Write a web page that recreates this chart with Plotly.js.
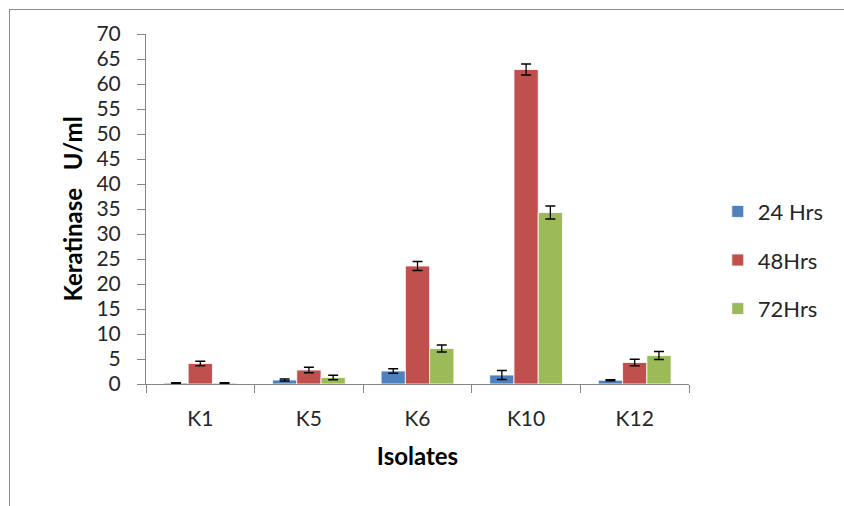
<!DOCTYPE html>
<html>
<head>
<meta charset="utf-8">
<script src="https://cdn.plot.ly/plotly-3.0.1.min.js"></script>
<style>
  html, body { margin: 0; padding: 0; background: #fff; }
  #wrap { position: relative; width: 844px; height: 506px; overflow: hidden; }
  #frame { position: absolute; left: 9px; top: 9px; width: 860px; height: 520px; border: 1px solid #8c8c8c; box-sizing: border-box; pointer-events: none; }
  #chart { position: absolute; left: 0; top: 0; width: 844px; height: 506px; }
</style>
</head>
<body>
<div id="wrap">
  <div id="chart"></div>
  <div id="frame"></div>
</div>
<script>
const isolates = ["K1", "K5", "K6", "K10", "K12"];
const seriesNames = ["24 Hrs", "48Hrs", "72Hrs"];
const hrs24 = [0.2, 0.8, 2.6, 1.8, 0.75];
const hrs48 = [4.1, 2.8, 23.6, 62.9, 4.3];
const hrs72 = [0.2, 1.3, 7.1, 34.3, 5.7];
const err24 = [0.05, 0.2, 0.45, 0.9, 0.1];
const err48 = [0.45, 0.55, 0.9, 1.1, 0.65];
const err72 = [0.05, 0.45, 0.7, 1.3, 0.8];
const colors = ["#4F81BD", "#C0504D", "#9BBB59"];

const values = [hrs24, hrs48, hrs72];
const errs = [err24, err48, err72];
const font = "Lato, 'Open Sans', 'Liberation Sans', sans-serif";

const traces = values.map((v, i) => ({
  type: "bar",
  name: seriesNames[i],
  x: isolates,
  y: v,
  legendgroup: "g" + i,
  marker: { color: colors[i], line: { color: "#ffffff", width: 0.8 } },
  error_y: { type: "data", array: errs[i], visible: true, color: "#000000", thickness: 1.3, width: 5 }
}));

const layout = {
  width: 844, height: 506,
  margin: { l: 146, r: 155, t: 34, b: 122 },
  paper_bgcolor: "rgba(0,0,0,0)",
  plot_bgcolor: "#ffffff",
  barmode: "group",
  bargap: 0.33,
  bargroupgap: 0,
  font: { family: font, size: 21, color: "#262626" },
  showlegend: true,
  legend: {
    x: 1.053, xanchor: "left", y: 0.354, yanchor: "middle",
    traceorder: "grouped", tracegroupgap: 17,
    font: { family: font, size: 22, color: "#262626" },
    itemwidth: 30
  },
  xaxis: {
    type: "category",
    showline: true, linecolor: "#868686", linewidth: 1,
    ticks: "outside", tickson: "boundaries", ticklen: 8, tickcolor: "#868686",
    ticklabelstandoff: 16,
    tickfont: { family: font, size: 21, color: "#262626" },
    title: { text: "<b>Isolates</b>", font: { family: font, size: 24, color: "#000000" }, standoff: 18 },
    showgrid: false, zeroline: false
  },
  yaxis: {
    range: [0, 70], dtick: 5, tick0: 0,
    showline: true, linecolor: "#868686", linewidth: 1,
    ticks: "outside", ticklen: 8, tickcolor: "#868686",
    ticklabelstandoff: 12,
    tickfont: { family: font, size: 21, color: "#262626" },
    title: { text: "<b>Keratinase   U/ml</b>", font: { family: font, size: 24, color: "#000000" }, standoff: 7 },
    showgrid: false, zeroline: false
  }
};

Plotly.newPlot("chart", traces, layout, { displayModeBar: false, staticPlot: true });
</script>
</body>
</html>
